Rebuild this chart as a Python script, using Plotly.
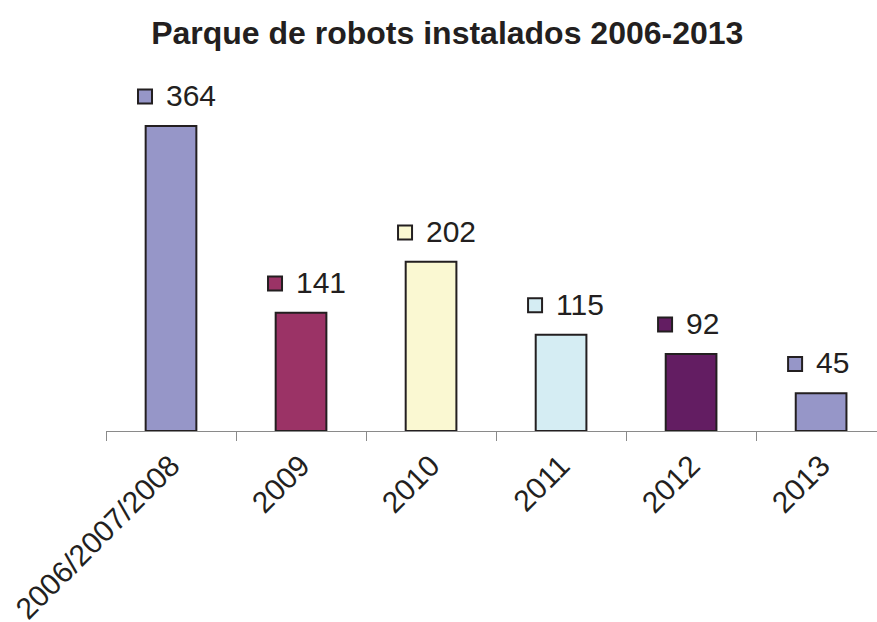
import plotly.graph_objects as go

# Data
categories = ["2006/2007/2008", "2009", "2010", "2011", "2012", "2013"]
values = [364, 141, 202, 115, 92, 45]
bar_colors = ["#9696C8", "#9B3366", "#FAF8D2", "#D5EDF3", "#631D62", "#9696C8"]

FONT = "Liberation Sans, Arial, sans-serif"
INK = "#231F20"
AXIS = "#8A8A8A"

positions = list(range(len(categories)))
label_offset = 35  # data units above bar top for the value label
key_dx = -0.2      # horizontal offset of the little colour key

fig = go.Figure()

fig.add_trace(go.Bar(
    x=positions,
    y=values,
    width=0.39,
    marker=dict(color=bar_colors, line=dict(color=INK, width=2)),
    hoverinfo="x+y",
))

# colour keys in front of the value labels
fig.add_trace(go.Scatter(
    x=[p + key_dx for p in positions],
    y=[v + label_offset for v in values],
    mode="markers",
    marker=dict(symbol="square", size=14, color=bar_colors, line=dict(color=INK, width=2)),
    hoverinfo="skip",
))

for p, v in zip(positions, values):
    fig.add_annotation(
        x=p + key_dx, y=v + label_offset,
        text=str(v),
        showarrow=False,
        xanchor="left", yanchor="middle",
        xshift=19, yshift=1,
        font=dict(family=FONT, size=30, color=INK),
    )

fig.update_layout(
    title=dict(
        text="<b>Parque de robots instalados 2006-2013</b>",
        x=0.51, xref="container", xanchor="center",
        y=0.948, yref="container", yanchor="middle",
        font=dict(family=FONT, size=32, color=INK),
    ),
    width=877, height=622,
    margin=dict(l=106, r=0, t=60, b=191, autoexpand=False),
    paper_bgcolor="white",
    plot_bgcolor="white",
    showlegend=False,
    font=dict(family=FONT, color=INK),
)

fig.update_xaxes(
    range=[-0.5, 5.43],
    tickvals=positions,
    ticktext=categories,
    tickangle=-45,
    ticks="",
    ticklabelstandoff=4,
    automargin=False,
    tickfont=dict(family=FONT, size=30, color=INK),
    showline=True, linecolor=AXIS, linewidth=1,
    showgrid=False, zeroline=False,
    minor=dict(
        tickvals=[p - 0.5 for p in positions] + [positions[-1] + 0.5],
        ticks="outside", ticklen=9, tickcolor=AXIS, tickwidth=1, showgrid=False,
    ),
)

fig.update_yaxes(
    range=[0, 442.7],
    visible=False,
    showgrid=False,
)

fig.write_html(
    "out.html",
    config={"displayModeBar": False},
    post_script="document.body.style.margin='0';",
)
